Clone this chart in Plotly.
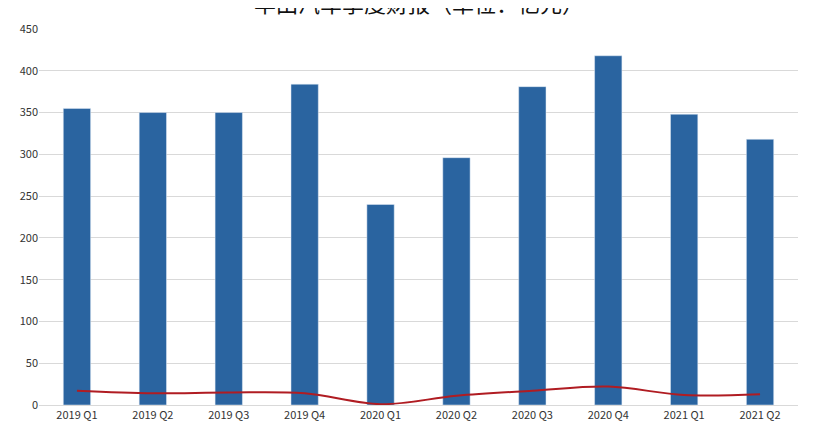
import plotly.graph_objects as go

quarters = ["2019 Q1", "2019 Q2", "2019 Q3", "2019 Q4", "2020 Q1",
            "2020 Q2", "2020 Q3", "2020 Q4", "2021 Q1", "2021 Q2"]
revenue = [355, 350, 350, 384, 240, 296, 381, 418, 348, 318]
profit = [17, 14, 15, 14, 1, 11, 17, 22, 12, 13]
title_text = "丰田汽车季度财报（单位：亿元）"

fig = go.Figure()
fig.add_trace(go.Bar(x=quarters, y=revenue, marker_color="#2a64a0", width=0.36))
fig.add_trace(go.Scatter(x=quarters, y=profit, mode="lines",
                         line=dict(color="#b01c22", width=2, shape="spline")))

fig.update_layout(
    width=820, height=432,
    showlegend=False,
    plot_bgcolor="white", paper_bgcolor="white",
    margin=dict(l=27, r=30, t=21, b=35),
    font=dict(family="Noto Sans CJK SC, Noto Sans", size=11, color="#333"),
    annotations=[dict(text=title_text, xref="paper", yref="paper", x=0.5, y=1.0,
                      yanchor="middle", yshift=27, showarrow=False,
                      font=dict(size=22, color="#111"))],
    xaxis=dict(showgrid=False, linecolor="#d9d9d9", ticks=""),
    yaxis=dict(range=[0, 450], dtick=50, gridcolor="#d9d9d9", zeroline=False,
               ticks="", tickfont=dict(size=11)),
)
fig.write_html("out.html")
